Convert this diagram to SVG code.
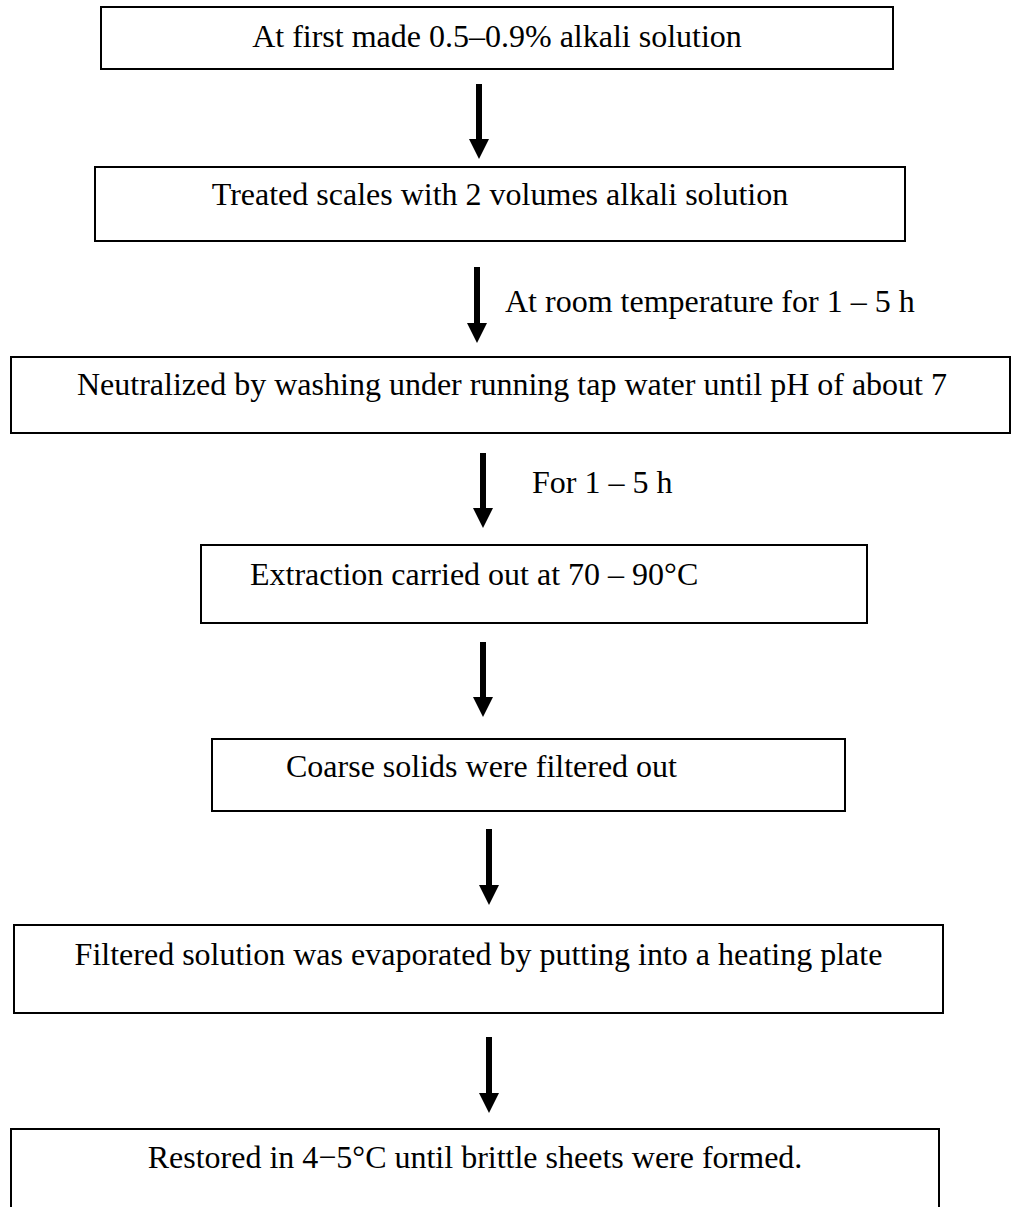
<svg xmlns="http://www.w3.org/2000/svg" width="1011" height="1207" viewBox="0 0 1011 1207">
<style>
.box{fill:#fff;stroke:#000;stroke-width:2}
.t{font-family:"Liberation Serif","Times New Roman",serif;font-size:32px;fill:#000}
.c{text-anchor:middle}
.arr{stroke:#000;stroke-width:6;fill:none;marker-end:url(#ah)}
</style>
<defs>
<marker id="ah" markerUnits="userSpaceOnUse" markerWidth="20" markerHeight="20" refX="0" refY="10" orient="auto">
<path d="M0,0 L20,10 L0,20 z" fill="#000"/>
</marker>
</defs>
<rect width="1011" height="1207" fill="#fff"/>
<g id="n1"><rect class="box" x="101" y="7" width="792" height="62"/><text class="t c" x="497" y="47">At first made 0.5–0.9% alkali solution</text></g>
<g id="n2"><rect class="box" x="95" y="167" width="810" height="74"/><text class="t c" x="500" y="205">Treated scales with 2 volumes alkali solution</text></g>
<g id="n3"><rect class="box" x="11" y="357" width="999" height="76"/><text class="t c" x="512" y="395">Neutralized by washing under running tap water until pH of about 7</text></g>
<g id="n4"><rect class="box" x="201" y="545" width="666" height="78"/><text class="t" x="250" y="585">Extraction carried out at 70 – 90°C</text></g>
<g id="n5"><rect class="box" x="212" y="739" width="633" height="72"/><text class="t" x="286" y="777">Coarse solids were filtered out</text></g>
<g id="n6"><rect class="box" x="14" y="925" width="929" height="88"/><text class="t c" x="478.5" y="965">Filtered solution was evaporated by putting into a heating plate</text></g>
<g id="n7"><rect class="box" x="11" y="1129" width="928" height="100"/><text class="t c" x="475" y="1168">Restored in 4−5°C until brittle sheets were formed.</text></g>
<g id="connectors">
<line class="arr" x1="479" y1="84" x2="479" y2="139"/>
<line class="arr" x1="477" y1="267" x2="477" y2="323"/>
<text class="t" x="505" y="312">At room temperature for 1 – 5 h</text>
<line class="arr" x1="483" y1="453" x2="483" y2="508"/>
<text class="t" x="532" y="493">For 1 – 5 h</text>
<line class="arr" x1="483" y1="642" x2="483" y2="697"/>
<line class="arr" x1="489" y1="829" x2="489" y2="885"/>
<line class="arr" x1="489" y1="1037" x2="489" y2="1093"/>
</g>
</svg>
